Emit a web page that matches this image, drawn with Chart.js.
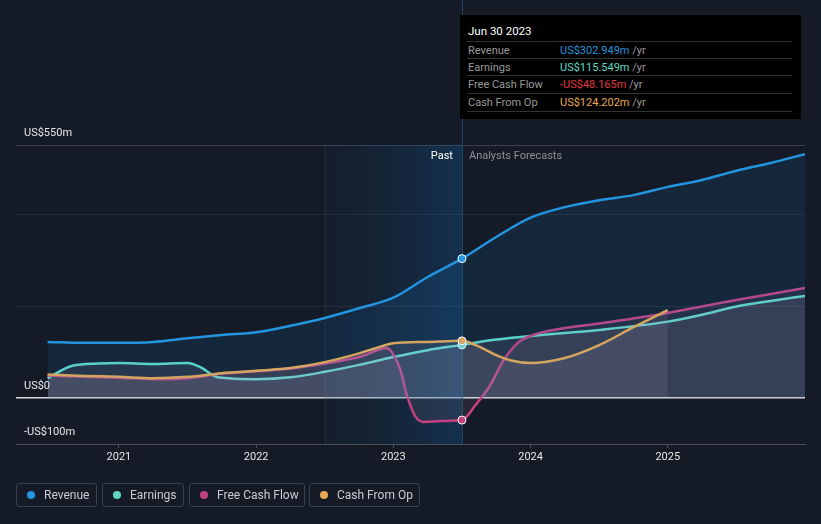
<!DOCTYPE html>
<html><head><meta charset="utf-8">
<script src="https://cdn.jsdelivr.net/npm/chart.js@4"></script>
<style>
html,body{margin:0;padding:0;background:#151b26;}
#wrap{position:relative;width:821px;height:524px;font-family:Roboto,"Noto Sans",sans-serif;}
canvas{position:absolute;left:0;top:0;}
#tip{position:absolute;left:460px;top:15px;width:341px;height:104px;background:#000;color:#fff;font-size:11px;}
#tip .t{position:absolute;left:8px;top:9px;font-size:11.5px;color:#fff;}
#tip .r{position:absolute;left:7px;width:325px;height:17px;border-top:1px solid #333;line-height:17px;}
#tip .l{position:absolute;left:1px;color:#9a9a9a;}
#tip .v{position:absolute;left:93px;}
#tip .u{color:#9a9a9a;}
#legend{position:absolute;left:16px;top:483px;}
.lg{position:absolute;top:0;height:24px;border:1px solid #3a404c;border-radius:3px;box-sizing:border-box;color:#c8ccd2;font-size:12px;line-height:23px;}
.lg i{position:absolute;left:10px;top:7px;width:8px;height:8px;border-radius:50%;}
.lg span{position:absolute;left:27px;}
</style></head>
<body><div id="wrap">
<canvas id="c" width="821" height="524"></canvas>
<div id="tip">
<div class="t">Jun 30 2023</div>
<div class="r" style="top:26px"><span class="l">Revenue</span><span class="v"><span style="color:#2394df">US$302.949m</span> <span class="u">/yr</span></span></div>
<div class="r" style="top:43px"><span class="l">Earnings</span><span class="v"><span style="color:#5fd9c6">US$115.549m</span> <span class="u">/yr</span></span></div>
<div class="r" style="top:60px"><span class="l">Free Cash Flow</span><span class="v"><span style="color:#e5383b">-US$48.165m</span> <span class="u">/yr</span></span></div>
<div class="r" style="top:78px;border-bottom:1px solid #333;"><span class="l">Cash From Op</span><span class="v"><span style="color:#e8a850">US$124.202m</span> <span class="u">/yr</span></span></div>
</div>
<div id="legend">
<div class="lg" style="left:0;width:81px"><i style="background:#2394df"></i><span>Revenue</span></div>
<div class="lg" style="left:86px;width:82px"><i style="background:#5fd9c6"></i><span>Earnings</span></div>
<div class="lg" style="left:173px;width:116px"><i style="background:#c4417f"></i><span>Free Cash Flow</span></div>
<div class="lg" style="left:293px;width:111px"><i style="background:#e8a850"></i><span>Cash From Op</span></div>
</div>
</div>
<script>
const xTicks = [2021, 2022, 2023, 2024, 2025];
const yTicks = [-100, 0, 200, 400, 550];
const yLabels = {550: 'US$550m', 0: 'US$0', '-100': '-US$100m'};
const pastStart = 2022.5, nowX = 2023.5;

const revenueX = [2020.48,2020.75,2021.0,2021.25,2021.5,2021.75,2022.0,2022.25,2022.5,2022.75,2023.0,2023.25,2023.5,2023.75,2024.0,2024.25,2024.5,2024.75,2025.0,2025.25,2025.5,2025.75,2026.0];
const revenueY = [122,120,120,122,130,137,143,157,174,195,218,263,303,350,392,415,430,441,459,474,494,511,530];

const earningsX = [2020.48,2020.66,2020.85,2021.0,2021.25,2021.5,2021.6,2021.7,2021.8,2022.0,2022.25,2022.5,2022.75,2023.0,2023.25,2023.5,2023.75,2024.0,2024.5,2025.0,2025.25,2025.5,2025.75,2026.0];
const earningsY = [43,70,75,76,74,76,66,47,43,41,45,57,72,89,104,115.5,127,135,148,166,181,199,211,222];

const fcfX = [2020.48,2020.75,2021.0,2021.25,2021.5,2021.75,2022.0,2022.25,2022.5,2022.75,2022.95,2023.05,2023.1,2023.16,2023.22,2023.35,2023.5,2023.6,2023.7,2023.8,2023.9,2024.0,2024.25,2024.5,2025.0,2025.5,2026.0];
const fcfY = [49,46,44,41,43,53,58,64,75,89,108,62,5,-40,-52,-50,-48,-15,25,80,118,135,152,162,185,213,239];

const cfoX = [2020.48,2020.75,2021.0,2021.25,2021.5,2021.75,2022.0,2022.25,2022.5,2022.75,2022.9,2023.0,2023.25,2023.5,2023.6,2023.75,2023.85,2024.0,2024.25,2024.5,2024.75,2025.0];
const cfoY = [51,48,46,43,46,54,59,65,78,97,111,119,122,124.2,115,93,82,76,87,115,154,191];

const pts = (xs, ys) => xs.map((x, i) => ({x: x, y: ys[i]}));
const dotR = ctx => (ctx.raw && ctx.raw.x === nowX) ? 4 : 0;

function ds(label, xs, ys, color, fillColor, order) {
  return {label, data: pts(xs, ys), borderColor: color, backgroundColor: fillColor,
    fill: 'origin', borderWidth: 2.5, cubicInterpolationMode: 'monotone',
    pointRadius: dotR, pointHoverRadius: dotR, pointBackgroundColor: color,
    pointBorderColor: '#ffffff', pointBorderWidth: 1, order};
}

const bandPlugin = {
  id: 'band',
  beforeDatasetsDraw(chart) {
    const {ctx, chartArea: a, scales: {x}} = chart;
    const x0 = x.getPixelForValue(pastStart), x1 = x.getPixelForValue(nowX);
    ctx.save();
    const g = ctx.createLinearGradient(x0, 0, x1, 0);
    g.addColorStop(0, 'rgba(20,60,100,0.10)');
    g.addColorStop(1, 'rgba(20,90,150,0.35)');
    ctx.fillStyle = g;
    ctx.fillRect(x0, a.top, x1 - x0, a.bottom - a.top);
    ctx.strokeStyle = 'rgba(60,80,100,0.35)';
    ctx.lineWidth = 1;
    ctx.beginPath(); ctx.moveTo(x0 + 0.5, a.top); ctx.lineTo(x0 + 0.5, a.bottom); ctx.stroke();
    ctx.strokeStyle = '#1f4563';
    ctx.beginPath(); ctx.moveTo(x1 + 0.5, 0); ctx.lineTo(x1 + 0.5, a.bottom); ctx.stroke();
    ctx.restore();
  },
  afterDraw(chart) {
    const {ctx, chartArea: a, scales: {x, y}} = chart;
    ctx.save();
    ctx.font = '11px Roboto, "Noto Sans", sans-serif';
    ctx.textBaseline = 'middle';
    ctx.fillStyle = '#e6e6e6';
    ctx.textAlign = 'left';
    for (const v of yTicks) {
      if (yLabels[v] === undefined) continue;
      ctx.fillText(yLabels[v], a.left + 8, y.getPixelForValue(v) - 12);
    }
    const xn = x.getPixelForValue(nowX);
    ctx.textAlign = 'right';
    ctx.fillStyle = '#ffffff';
    ctx.fillText('Past', xn - 9, a.top + 11);
    ctx.textAlign = 'left';
    ctx.fillStyle = '#8a8f98';
    ctx.fillText('Analysts Forecasts', xn + 7, a.top + 11);
    ctx.restore();
  }
};

new Chart(document.getElementById('c'), {
  type: 'line',
  data: {datasets: [
    ds('Revenue', revenueX, revenueY, '#2394df', 'rgba(33,150,243,0.10)', 1),
    ds('Cash From Op', cfoX, cfoY, '#e8a850', 'rgba(225,195,205,0.11)', 2),
    ds('Free Cash Flow', fcfX, fcfY, '#c4417f', 'rgba(225,150,190,0.09)', 3),
    ds('Earnings', earningsX, earningsY, '#5fd9c6', 'rgba(200,205,225,0.11)', 4)
  ]},
  options: {
    responsive: false, animation: false, devicePixelRatio: 1,
    layout: {padding: {left: 16, right: 16, top: 145, bottom: 0}},
    plugins: {legend: {display: false}, tooltip: {enabled: false}},
    events: [],
    scales: {
      x: {type: 'linear', min: 2020.25, max: 2026.0,
        afterBuildTicks: s => { s.ticks = xTicks.map(v => ({value: v})); },
        afterFit: s => { s.height = 80; },
        ticks: {color: '#e6e6e6', font: {size: 11, family: 'Roboto'}, padding: 3, maxRotation: 0, autoSkip: false, callback: v => String(v)},
        grid: {drawOnChartArea: false, tickLength: 4, color: '#4a4f58'},
        border: {color: '#4a4f58'}},
      y: {min: -100, max: 550,
        afterBuildTicks: s => { s.ticks = yTicks.map(v => ({value: v})); },
        afterFit: s => { s.width = 0; },
        ticks: {display: false},
        grid: {drawTicks: false,
          color: c => c.tick.value === 0 ? 'rgba(240,240,240,0.9)' : (c.tick.value === 550 ? '#3b404a' : (c.tick.value === -100 ? '#4a4f58' : '#262c37')),
          lineWidth: c => c.tick.value === 0 ? 1.5 : 1},
        border: {display: false}}
    }
  },
  plugins: [bandPlugin]
});
</script>
</body></html>
